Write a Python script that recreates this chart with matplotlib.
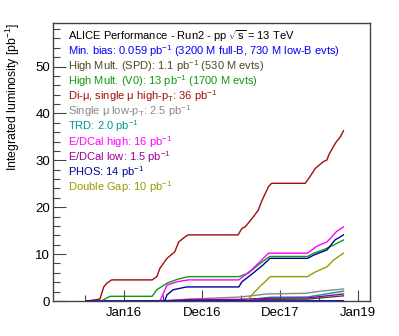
import matplotlib
matplotlib.use("Agg")
import matplotlib.pyplot as plt
from matplotlib.ticker import FixedLocator, MultipleLocator

plt.rcParams['font.family'] = ['Liberation Sans', 'DejaVu Sans']
plt.rcParams['mathtext.fontset'] = 'custom'
plt.rcParams['mathtext.rm'] = 'Liberation Sans'
plt.rcParams['mathtext.it'] = 'Liberation Sans'
plt.rcParams['mathtext.sf'] = 'Liberation Sans'

# ---- data (x in fractional years, y in pb^-1) ----
dimu_x = [2015.52, 2015.69, 2015.74, 2015.78, 2015.84, 2016.36, 2016.42, 2016.46, 2016.55, 2016.65,
          2016.70, 2016.76, 2016.82, 2017.46, 2017.51, 2017.55, 2017.64, 2017.72, 2017.76, 2017.85,
          2017.89, 2018.32, 2018.38, 2018.45, 2018.55, 2018.60, 2018.62, 2018.68, 2018.72, 2018.77, 2018.81]
dimu_y = [0.0, 0.4, 3.0, 3.8, 4.5, 4.5, 5.2, 7.0, 9.1, 10.5,
          12.6, 13.4, 14.1, 14.1, 15.5, 15.8, 17.6, 19.4, 21.2, 24.4,
          25.1, 25.1, 26.5, 28.3, 29.7, 30.1, 31.1, 32.9, 34.0, 35.0, 36.3]

v0_x = [2015.71, 2015.82, 2016.36, 2016.42, 2016.55, 2016.68, 2016.82, 2017.47, 2017.59, 2017.72,
        2017.83, 2017.87, 2018.35, 2018.43, 2018.55, 2018.68, 2018.81]
v0_y = [0.0, 1.0, 1.0, 2.4, 3.8, 4.6, 5.2, 5.2, 5.9, 7.7,
        9.1, 9.5, 9.5, 10.2, 10.9, 11.9, 13.0]

edcal_high_x = [2016.46, 2016.55, 2016.68, 2016.82, 2017.47, 2017.63, 2017.76, 2017.85, 2018.35,
                2018.47, 2018.60, 2018.72, 2018.81]
edcal_high_y = [0.0, 3.4, 4.1, 4.5, 4.5, 6.6, 8.7, 10.2, 10.2, 11.7, 12.6, 14.8, 15.8]

phos_x = [2016.52, 2016.55, 2016.63, 2016.80, 2017.47, 2017.51, 2017.65, 2017.78, 2017.87, 2018.35,
          2018.43, 2018.60, 2018.70, 2018.81]
phos_y = [0.0, 1.3, 2.4, 3.0, 3.0, 4.1, 5.9, 7.7, 9.1, 9.1, 9.8, 10.9, 13.0, 14.1]

dg_x = [2017.57, 2017.66, 2017.74, 2017.83, 2017.87, 2018.35, 2018.45, 2018.60, 2018.68, 2018.81]
dg_y = [0.0, 1.7, 3.1, 4.5, 5.2, 5.2, 6.2, 7.3, 8.7, 10.2]

smu_x = [2016.50, 2016.82, 2017.49, 2017.83, 2018.32, 2018.52, 2018.81]
smu_y = [0.0, 0.4, 0.85, 1.5, 1.64, 2.1, 2.56]

trd_x = [2017.50, 2017.87, 2018.35, 2018.55, 2018.81]
trd_y = [0.0, 0.8, 0.85, 1.4, 2.1]

edcal_low_x = [2016.46, 2016.82, 2017.47, 2017.87, 2018.35, 2018.81]
edcal_low_y = [0.0, 0.3, 0.35, 0.6, 0.65, 1.5]

spd_x = [2015.52, 2016.82, 2017.47, 2017.87, 2018.35, 2018.81]
spd_y = [0.0, 0.1, 0.15, 0.35, 0.4, 1.1]

mb_x = [2015.52, 2018.81]
mb_y = [0.0, 0.06]

xtick_pos = [2016.0, 2017.0, 2018.0, 2019.0]
xtick_labels = ["Jan16", "Dec16", "Dec17", "Jan19"]

header = r"ALICE Performance - Run2 - pp $\sqrt{s}$ = 13 TeV"
legend_entries = [
    (r"Min. bias: 0.059 pb$^{-1}$ (3200 M full-B, 730 M low-B evts)", "#0000ff"),
    (r"High Mult. (SPD): 1.1 pb$^{-1}$ (530 M evts)", "#4a4a22"),
    (r"High Mult. (V0): 13 pb$^{-1}$ (1700 M evts)", "#119911"),
    (r"Di-μ, single μ high-p$_{T}$: 36 pb$^{-1}$", "#a00c0c"),
    (r"Single μ low-p$_{T}$: 2.5 pb$^{-1}$", "#888888"),
    (r"TRD: 2.0 pb$^{-1}$", "#009999"),
    (r"E/DCal high: 16 pb$^{-1}$", "#ff00ff"),
    (r"E/DCal low: 1.5 pb$^{-1}$", "#990099"),
    (r"PHOS: 14 pb$^{-1}$", "#000099"),
    (r"Double Gap: 10 pb$^{-1}$", "#999900"),
]

fig = plt.figure(figsize=(3.99, 3.36), dpi=100)
ax = fig.add_axes([53/399, 35/336, 317/399, 278/336])

lw = 1.0
ax.plot(spd_x, spd_y, color="#4a4a22", lw=lw)
ax.plot(smu_x, smu_y, color="#888888", lw=lw)
ax.plot(trd_x, trd_y, color="#009999", lw=lw)
ax.plot(edcal_low_x, edcal_low_y, color="#990099", lw=lw)
ax.plot(dg_x, dg_y, color="#999900", lw=lw)
ax.plot(v0_x, v0_y, color="#119911", lw=lw)
ax.plot(edcal_high_x, edcal_high_y, color="#ff00ff", lw=lw)
ax.plot(phos_x, phos_y, color="#000099", lw=lw)
ax.plot(dimu_x, dimu_y, color="#a00c0c", lw=lw)
ax.plot(mb_x, mb_y, color="#0000ff", lw=lw)

ax.set_xlim(2015.09, 2019.15)
ax.set_ylim(0, 59.3)

ax.xaxis.set_major_locator(FixedLocator(xtick_pos))
ax.set_xticklabels(xtick_labels)
ax.xaxis.set_minor_locator(FixedLocator([2015.5, 2016.5, 2017.5, 2018.5]))
ax.yaxis.set_major_locator(MultipleLocator(10))
ax.yaxis.set_minor_locator(MultipleLocator(2))

ax.tick_params(axis='both', which='both', direction='in', colors='#444444', labelcolor='black',
               labelsize=9.5, width=0.8)
ax.tick_params(axis='y', which='major', length=9, pad=2)
ax.tick_params(axis='y', which='minor', length=5)
ax.tick_params(axis='x', which='major', length=8, pad=4)
ax.tick_params(axis='x', which='minor', length=4)
for s in ax.spines.values():
    s.set_color('#444444')
    s.set_linewidth(1.0)

fig.text(13/399, 1 - 23/336, r"Integrated luminosity [pb$^{-1}$]", rotation=90,
         ha='center', va='top', fontsize=8.8)

y0 = 36.0
dy = 15.1
fig.text(68/399, 1 - y0/336, header, ha='left', va='center', fontsize=8, color='black')
for i, (txt, col) in enumerate(legend_entries):
    fig.text(68/399, 1 - (y0 + dy*(i+1))/336, txt, ha='left', va='center', fontsize=8, color=col)

fig.savefig("out.png", dpi=100)
